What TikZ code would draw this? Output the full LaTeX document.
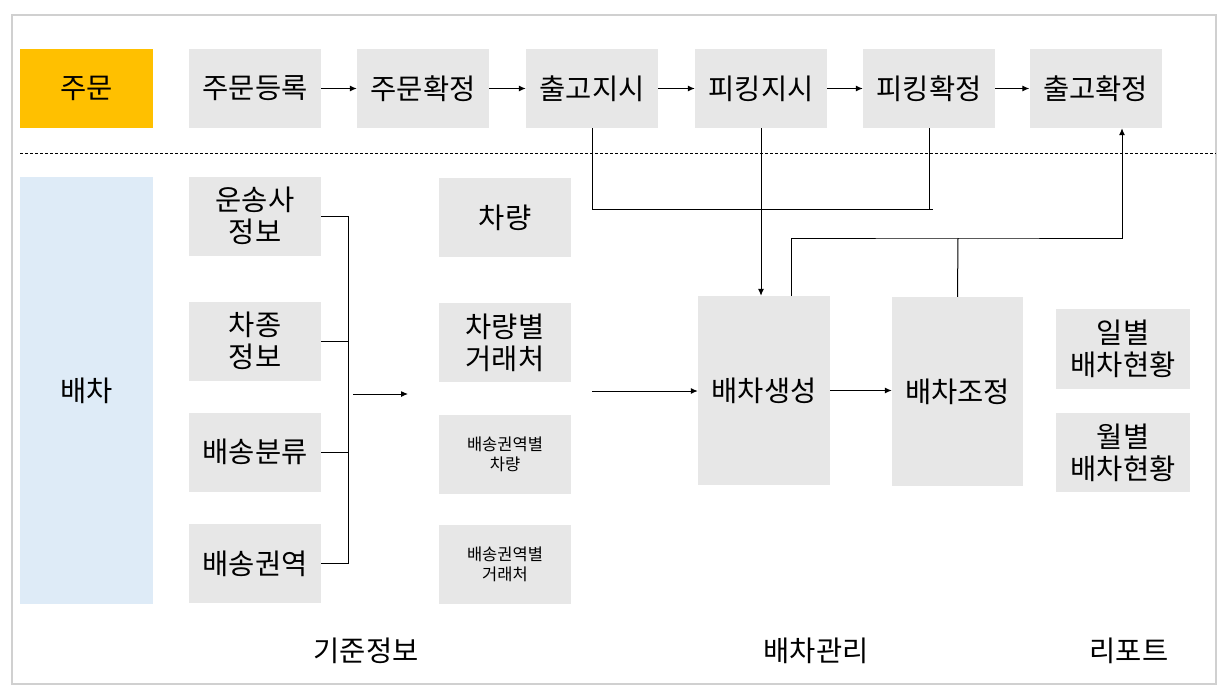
\documentclass[tikz,border=0pt]{standalone}
\usepackage{fontspec}
\setmainfont{Noto Sans CJK KR}
\usetikzlibrary{arrows.meta}
\definecolor{ordercol}{HTML}{FFC000}
\definecolor{dispcol}{HTML}{DEEBF7}
\definecolor{boxcol}{HTML}{E7E7E7}
\definecolor{framecol}{HTML}{D0D0D0}
\tikzset{
  >={Latex[length=7pt,width=6pt]},
  flowbox/.style={fill=boxcol, minimum width=132pt, minimum height=79pt, inner sep=0pt,
    align=center, font=\fontsize{28.5}{32}\selectfont},
  smallbox/.style={flowbox, font=\fontsize{16.5}{20}\selectfont},
  lanebox/.style={inner sep=0pt, minimum width=133pt, align=center, font=\fontsize{28.5}{32}\selectfont},
  grouplabel/.style={font=\fontsize{28.5}{32}\selectfont},
  link/.style={line width=1pt}
}
\begin{document}
\begin{tikzpicture}[x=1pt,y=-1pt]
    \useasboundingbox (0,0) rectangle (1224,699);
    % Frame
    \draw[framecol, line width=2pt] (12,15) rectangle (1216,684);

    % Lanes
    \node[lanebox, fill=ordercol, minimum height=79pt] (order) at (86.5,88) {주문};
    \node[lanebox, fill=dispcol, minimum height=427pt] (disp) at (86.5,390.5) {배차};

    % Separator
    \coordinate (sepl) at (20,153);
    \coordinate (sepr) at (1216,153);
    \draw[dash pattern=on 3pt off 2pt, line width=0.7pt] (sepl) -- (sepr);

    % Order flow
    \node[flowbox] (ordreg) at (255,88.5) {주문등록};
    \node[flowbox] (ordconf) at (423,88.5) {주문확정};
    \node[flowbox] (shipinst) at (592,88.5) {출고지시};
    \node[flowbox] (pickinst) at (761,88.5) {피킹지시};
    \node[flowbox] (pickconf) at (929,88.5) {피킹확정};
    \node[flowbox] (shipconf) at (1095.5,88.5) {출고확정};
    \draw[link, ->] (ordreg) -- (ordconf);
    \draw[link, ->] (ordconf) -- (shipinst);
    \draw[link, ->] (shipinst) -- (pickinst);
    \draw[link, ->] (pickinst) -- (pickconf);
    \draw[link, ->] (pickconf) -- (shipconf);

    % Base info
    \node[flowbox] (carrier) at (255,216) {운송사\\정보};
    \node[flowbox] (vtype) at (255,341) {차종\\정보};
    \node[flowbox] (dclass) at (255,452) {배송분류};
    \node[flowbox] (dzone) at (255,563.5) {배송권역};

    \node[flowbox] (vehicle) at (505,217.5) {차량};
    \node[flowbox] (vclient) at (505,342.5) {차량별\\거래처};
    \node[smallbox] (zvehicle) at (505,454) {배송권역별\\차량};
    \node[smallbox] (zclient) at (505,564.5) {배송권역별\\거래처};

    % Bracket
    \draw[link] (carrier.east) -- ++(27,0) |- (dzone.east);
    \draw[link] (vtype.east) -- ++(27,0);
    \draw[link] (dclass.east) -- ++(27,0);
    \coordinate (brk1) at (353,394);
    \coordinate (brk2) at (408,394);
    \draw[link, ->] (brk1) -- (brk2);

    % Dispatch
    \node[flowbox, minimum height=189pt] (create) at (764,390.5) {배차생성};
    \node[flowbox, minimum width=131pt, minimum height=189pt] (adjust) at (957.5,391.5) {배차조정};
    \coordinate (src) at (592,391);
    \draw[link, ->] (src) -- (src -| create.west);
    \draw[link, ->] (create.east) -- (create.east -| adjust.west);

    % Links across lanes
    \coordinate (jn1) at (933,209);
    \draw[link] (shipinst.south) |- (jn1);
    \draw[link] (pickconf.south) -- (pickconf.south |- jn1);
    \draw[link, ->] (pickinst.south) -- (pickinst.south |- create.north);
    \coordinate (jn2) at (958,238);
    \draw[link, ->] ([xshift=27pt]create.north) |- (jn2) -| ([xshift=26.5pt]shipconf.south);
    \draw[link] (adjust.north) -- (jn2);

    % Reports
    \node[flowbox, minimum width=134pt, minimum height=80pt] (daily) at (1123,349) {일별\\배차현황};
    \node[flowbox, minimum width=134pt] (monthly) at (1123,452.5) {월별\\배차현황};

    % Group labels
    \node[grouplabel] (gbase) at (366,651) {기준정보};
    \node[grouplabel] (gdisp) at (816,651) {배차관리};
    \node[grouplabel] (grep) at (1129,651) {리포트};
\end{tikzpicture}
\end{document}
